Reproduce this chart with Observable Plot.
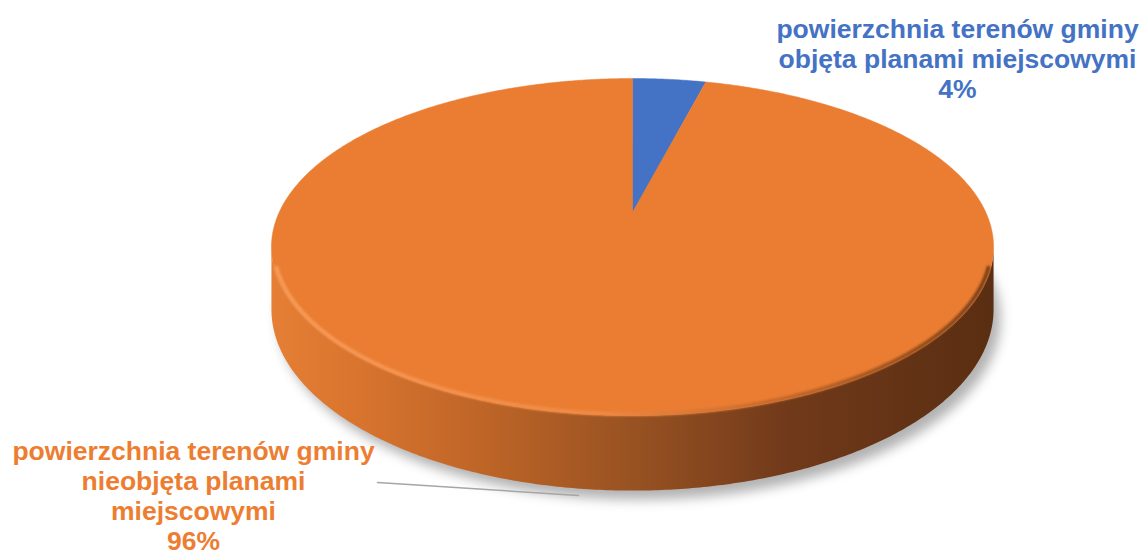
<!DOCTYPE html>
<html><head><meta charset="utf-8">
<script src="https://cdn.jsdelivr.net/npm/d3@7"></script>
<script src="https://cdn.jsdelivr.net/npm/@observablehq/plot@0.6"></script>
<style>html,body{margin:0;padding:0;background:#fff;overflow:hidden}</style>
</head><body><div id="chart"></div>
<script>
// ---- data ----
const categories = [
  "powierzchnia terenów gminy objęta planami miejscowymi",
  "powierzchnia terenów gminy nieobjęta planami miejscowymi"
];
const shares = [4, 96];
const labelLines = [
  ["powierzchnia terenów gminy", "objęta planami miejscowymi"],
  ["powierzchnia terenów gminy", "nieobjęta planami", "miejscowymi"]
];

// ---- layout & style ----
const W = 1144, H = 554;
const geo = {cx: 632, cy: 212, A: 161.5, B: 353.4, k: 0.205, T: 59.6};
const topColors = ["#4472C4", "#EA7D32"];
const labelColors = ["#4472C4", "#ED7D31"];
const labelPos = [{x: 957, y: 97}, {x: 193, y: 549}];
const fontSize = 26.5, lineGap = 30;
const leaderStart = {x: 377, y: 482}, leaderEnd = {x: 578, y: 495};

function proj(theta, depth, r = 1) {
  const u = r * Math.sin(theta), v = -r * Math.cos(theta);
  const s = 1 / (1 - geo.k * v);
  return [geo.cx + geo.B * u * s, geo.cy + geo.A * v * s + depth * geo.T * s];
}
function arcPts(a0, a1, depth, r = 1) {
  const n = Math.max(2, Math.ceil((a1 - a0) / (Math.PI / 360)));
  return d3.range(n + 1).map(j => proj(a0 + (a1 - a0) * j / n, depth, r));
}
const total = d3.sum(shares);
let acc = 0;
const slices = shares.map((v, i) => {
  const a0 = acc / total * 2 * Math.PI; acc += v;
  const a1 = acc / total * 2 * Math.PI;
  return {i, v, a0, a1};
});
const toRows = pts => pts.map(([x, y]) => ({x, y}));

const fa0 = Math.acos(-geo.k), fa1 = 2 * Math.PI - fa0;
const rimInset = 0.12;

const marks = [];
// shadow
marks.push(Plot.line(toRows(arcPts(0, 2 * Math.PI, 1)), {
  x: "x", y: "y", fill: "#000", fillOpacity: 0.3, stroke: "none", dx: 7, dy: 9
}));
// sides (front visible portion of each slice)
for (const s of slices) {
  const a0 = Math.max(s.a0, fa0), a1 = Math.min(s.a1, fa1);
  if (a1 <= a0) continue;
  const pts = [...arcPts(a0, a1, 0), ...arcPts(a0, a1, 1).reverse()];
  marks.push(Plot.line(toRows(pts), {x: "x", y: "y", fill: `url(#side${s.i})`, stroke: "none"}));
}
// top face
for (const s of slices) {
  const pts = [[geo.cx, geo.cy], ...arcPts(s.a0, s.a1, 0), [geo.cx, geo.cy]];
  marks.push(Plot.line(toRows(pts), {x: "x", y: "y", fill: topColors[s.i], stroke: topColors[s.i], strokeWidth: 0.5}));
}
// rim highlight on front edge
marks.push(Plot.line(toRows(arcPts(fa0 + rimInset, fa1 - rimInset, 0, 0.994)), {
  x: "x", y: "y", stroke: "url(#rim)", strokeWidth: 4, fill: "none"
}));
// leader line
marks.push(Plot.line([leaderStart, leaderEnd], {x: "x", y: "y", stroke: "#A6A6A6", strokeWidth: 1.5}));
// labels
const labels = slices.map(s => ({
  x: labelPos[s.i].x, y: labelPos[s.i].y,
  text: [...labelLines[s.i], `${s.v}%`].join("\n"),
  color: labelColors[s.i], name: categories[s.i]
}));
marks.push(Plot.text(labels, {
  x: "x", y: "y", text: "text", fill: "color", lineAnchor: "bottom", textAnchor: "middle",
  lineHeight: lineGap / fontSize, fontSize, fontWeight: "bold", fontFamily: "'Liberation Sans', Arial, sans-serif"
}));

const svg = Plot.plot({
  width: W, height: H, margin: 0,
  x: {domain: [0, W], range: [0, W], axis: null},
  y: {domain: [0, H], range: [0, H], axis: null},
  color: {type: "identity"},
  style: {background: "#fff", overflow: "visible"},
  marks
});
svg.insertAdjacentHTML("afterbegin", `<defs>
  <filter id="blur6" x="-20%" y="-20%" width="140%" height="140%"><feGaussianBlur stdDeviation="6"/></filter>
  <filter id="blur1" x="-5%" y="-20%" width="110%" height="140%"><feGaussianBlur stdDeviation="1.2"/></filter>
  <linearGradient id="side1" x1="0" x2="1" y1="0" y2="0">
    <stop offset="0" stop-color="#E67F35"/>
    <stop offset="0.12" stop-color="#D8742E"/>
    <stop offset="0.3" stop-color="#BD6427"/>
    <stop offset="0.5" stop-color="#985222"/>
    <stop offset="0.72" stop-color="#70391A"/>
    <stop offset="1" stop-color="#5A2E12"/>
  </linearGradient>
  <linearGradient id="side0" x1="0" x2="1" y1="0" y2="0">
    <stop offset="0" stop-color="#4472C4"/>
    <stop offset="1" stop-color="#203A66"/>
  </linearGradient>
  <linearGradient id="rim" x1="0" x2="1" y1="0" y2="0">
    <stop offset="0" stop-color="#F79B57"/>
    <stop offset="0.45" stop-color="#F08A45"/>
    <stop offset="0.7" stop-color="#C66A2B"/>
    <stop offset="1" stop-color="#7A4019"/>
  </linearGradient>
</defs>`);
const sh = svg.querySelector('[fill-opacity="0.3"]');
if (sh) sh.setAttribute("filter", "url(#blur6)");
const rim = svg.querySelector('[stroke="url(#rim)"]');
if (rim) rim.setAttribute("filter", "url(#blur1)");
document.getElementById("chart").append(svg);
</script>
</body></html>
